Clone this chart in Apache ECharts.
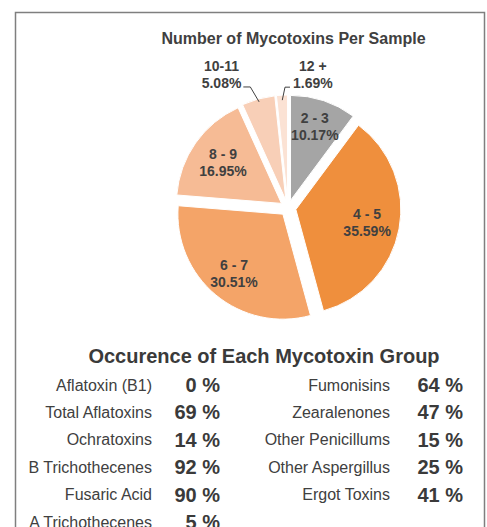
<!DOCTYPE html>
<html>
<head>
<meta charset="utf-8">
<script src="https://cdn.jsdelivr.net/npm/echarts@6/dist/echarts.min.js"></script>
<style>html,body{margin:0;padding:0;background:#fff;}#main{width:487px;height:527px;}</style>
</head>
<body>
<div id="main"></div>
<script>
// ---- data ----
const pieCategories = ['2 - 3', '4 - 5', '6 - 7', '8 - 9', '10-11', '12 +'];
const pieShares = [10.17, 35.59, 30.51, 16.95, 5.08, 1.69];
const pieColors = ['#a5a5a5', '#ef8f3d', '#f4a468', '#f6bb95', '#f8cfb7', '#fbe2d4'];

const groupNamesLeft = ['Aflatoxin (B1)', 'Total Aflatoxins', 'Ochratoxins', 'B Trichothecenes', 'Fusaric Acid', 'A Trichothecenes'];
const groupValuesLeft = [0, 69, 14, 92, 90, 5];
const groupNamesRight = ['Fumonisins', 'Zearalenones', 'Other Penicillums', 'Other Aspergillus', 'Ergot Toxins'];
const groupValuesRight = [64, 47, 15, 25, 41];

const pieTitle = 'Number of Mycotoxins Per Sample';
const tableTitle = 'Occurence of Each Mycotoxin Group';

// ---- layout ----
const CX = 288, CY = 208, R = 105, OFF = 8;
const INSIDE_SHIFT = [22, 17, 21, 16];   // extra radial push of inside labels
const FONT = 'Arial, "Liberation Sans", sans-serif';
const total = pieShares.reduce((a, b) => a + b, 0);
function midAngle(i) {
  let s = 0;
  for (let j = 0; j < i; j++) s += pieShares[j];
  return (s + pieShares[i] / 2) / total * Math.PI * 2;
}
function sliceGeom(i) {
  const a = midAngle(i), sx = Math.sin(a), sy = -Math.cos(a);
  const ox = CX + OFF * sx, oy = CY + OFF * sy;           // exploded slice centre
  return { sx, sy, ox, oy, ax: ox + R * sx, ay: oy + R * sy };
}
const callouts = {
  4: { start: -3, elbow: [-8, -12], tail: -7, label: [-21, -10] },
  5: { start: -5, elbow: [3, -8], tail: 5, label: [23, -10] }
};
function calloutPoints(i) {
  const g = sliceGeom(i), c = callouts[i];
  const p0 = [g.ox + (R + c.start) * g.sx, g.oy + (R + c.start) * g.sy];
  const p1 = [g.ax + c.elbow[0], g.ay + c.elbow[1]];
  const p2 = [p1[0] + c.tail, p1[1]];
  const lab = [p2[0] + c.label[0], p2[1] + c.label[1]];
  return { pts: [p0, p1, p2], lab, g };
}

const chart = echarts.init(document.getElementById('main'), null, { renderer: 'svg' });

const graphics = [
  { type: 'rect', shape: { x: 15.5, y: 12.5, width: 469, height: 560 }, style: { fill: 'none', stroke: '#7f7f7f', lineWidth: 1.5 }, z: -1 }
];
Object.keys(callouts).forEach(k => {
  const c = calloutPoints(+k);
  graphics.push({ type: 'polyline', shape: { points: c.pts }, style: { stroke: '#404040', lineWidth: 1, fill: 'none' }, z: 10 });
});
const ROW0 = 385, ROWH = 27.4;
groupNamesLeft.forEach((n, i) => {
  graphics.push({ type: 'text', x: 152, y: ROW0 + i * ROWH, style: { text: n, font: '16px ' + FONT, fill: '#404040', align: 'right', verticalAlign: 'middle' } });
  graphics.push({ type: 'text', x: 220, y: ROW0 + i * ROWH, style: { text: groupValuesLeft[i] + ' %', font: 'bold 20px ' + FONT, fill: '#3a3a3a', align: 'right', verticalAlign: 'middle' } });
});
groupNamesRight.forEach((n, i) => {
  graphics.push({ type: 'text', x: 390, y: ROW0 + i * ROWH, style: { text: n, font: '16px ' + FONT, fill: '#404040', align: 'right', verticalAlign: 'middle' } });
  graphics.push({ type: 'text', x: 463, y: ROW0 + i * ROWH, style: { text: groupValuesRight[i] + ' %', font: 'bold 20px ' + FONT, fill: '#3a3a3a', align: 'right', verticalAlign: 'middle' } });
});

chart.setOption({
  backgroundColor: '#ffffff',
  animation: false,
  title: [
    { text: pieTitle, left: 288.5, top: 25, textAlign: 'center', textStyle: { fontFamily: FONT, fontSize: 16, fontWeight: 'bold', color: '#404040' } },
    { text: tableTitle, left: 259, top: 341, textAlign: 'center', textStyle: { fontFamily: FONT, fontSize: 20, fontWeight: 'bold', color: '#3a3a3a' } }
  ],
  graphic: graphics,
  series: [{
    type: 'pie',
    center: [CX, CY],
    radius: R,
    startAngle: 90,
    clockwise: true,
    selectedMode: 'multiple',
    selectedOffset: OFF,
    avoidLabelOverlap: false,
    itemStyle: { borderColor: '#ffffff', borderWidth: 1 },
    select: { itemStyle: { borderColor: '#ffffff', borderWidth: 1 } },
    emphasis: { disabled: true },
    label: {
      position: 'inside',
      fontFamily: FONT, fontSize: 14, fontWeight: 'bold', color: '#404040', lineHeight: 17,
      formatter: p => p.name + '\n' + p.value.toFixed(2) + '%'
    },
    labelLine: { show: false },
    labelLayout: function (p) {
      const i = p.dataIndex;
      const g = sliceGeom(i);
      if (i < 4) return { dx: INSIDE_SHIFT[i] * g.sx, dy: INSIDE_SHIFT[i] * g.sy };
      // default inside position is halfway along the radius of the exploded slice
      const defX = g.ox + R / 2 * g.sx, defY = g.oy + R / 2 * g.sy;
      const c = calloutPoints(i);
      return { dx: c.lab[0] - defX, dy: c.lab[1] - defY };
    },
    data: pieCategories.map((c, i) => ({
      name: c, value: pieShares[i], selected: true,
      itemStyle: { color: pieColors[i] }
    }))
  }]
});
</script>
</body>
</html>
